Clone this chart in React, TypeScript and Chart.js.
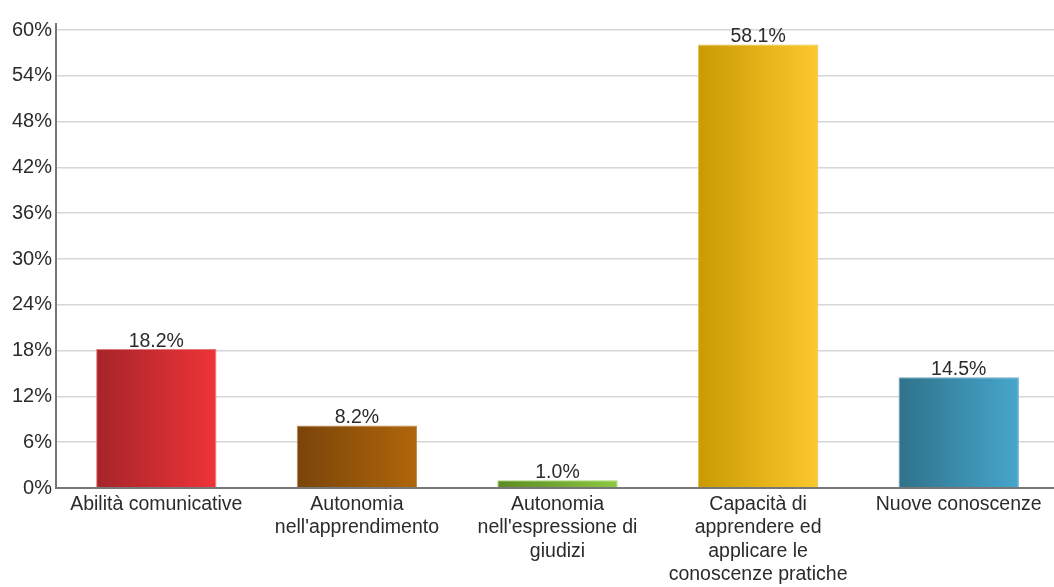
import React, { useEffect, useRef } from "react";
import { Chart, registerables } from "chart.js";

Chart.register(...registerables);

const categories: string[][] = [
  ["Abilità comunicative"],
  ["Autonomia", "nell'apprendimento"],
  ["Autonomia", "nell'espressione di", "giudizi"],
  ["Capacità di", "apprendere ed", "applicare le", "conoscenze pratiche"],
  ["Nuove conoscenze"],
];
const values: number[] = [18.2, 8.2, 1.0, 58.1, 14.5];
const darkColors: string[] = ["#A6242B", "#7A4409", "#5A8A22", "#C99A02", "#2F7289"];
const lightColors: string[] = ["#EE3438", "#B0660B", "#8CC841", "#FCC82E", "#46A6CD"];
const borderColors: string[] = ["#E77A7C", "#B98A55", "#A6D46E", "#E9C04E", "#6FA9C2"];

const FONT = "'Liberation Sans', Arial, sans-serif";

export default function App() {
  const ref = useRef<HTMLCanvasElement | null>(null);
  useEffect(() => {
    if (!ref.current) return;
    const labelPlugin = {
      id: "valueLabels",
      afterDatasetsDraw(chart: any) {
        const ctx = chart.ctx;
        const meta = chart.getDatasetMeta(0);
        ctx.save();
        ctx.font = `19.5px ${FONT}`;
        ctx.fillStyle = "#2b2b2b";
        ctx.textAlign = "center";
        ctx.textBaseline = "bottom";
        meta.data.forEach((bar: any, i: number) => {
          ctx.fillText(values[i].toFixed(1) + "%", bar.x, bar.y + 2);
        });
        ctx.restore();
      },
    };
    const axisPlugin = {
      id: "yAxisLine",
      afterDraw(chart: any) {
        const ctx = chart.ctx;
        const a = chart.chartArea;
        ctx.save();
        ctx.strokeStyle = "#777777";
        ctx.lineWidth = 2;
        ctx.beginPath();
        ctx.moveTo(a.left, a.top - 7);
        ctx.lineTo(a.left, a.bottom + 1);
        ctx.moveTo(a.left, a.bottom);
        ctx.lineTo(a.right, a.bottom);
        ctx.stroke();
        ctx.restore();
      },
    };
    const chart = new Chart(ref.current, {
      type: "bar",
      data: {
        labels: categories,
        datasets: [
          {
            data: values,
            backgroundColor: (c: any) => {
              const chart = c.chart;
              const xs = chart.scales.x;
              if (!xs || !chart.chartArea) return darkColors[c.dataIndex];
              const cx = xs.getPixelForValue(c.dataIndex);
              const half = (xs.width / categories.length) * 0.6 / 2;
              const g = chart.ctx.createLinearGradient(cx - half, 0, cx + half, 0);
              g.addColorStop(0, darkColors[c.dataIndex]);
              g.addColorStop(1, lightColors[c.dataIndex]);
              return g;
            },
            borderColor: borderColors,
            borderWidth: 1,
            barPercentage: 0.6,
            categoryPercentage: 1,
          },
        ],
      },
      options: {
        animation: false,
        responsive: false,
        maintainAspectRatio: false,
        layout: { padding: { top: 30, right: 1, left: 0, bottom: 0 } },
        plugins: { legend: { display: false }, tooltip: { enabled: false } },
        scales: {
          x: {
            grid: { display: false, drawTicks: false },
            border: { display: false },
            ticks: {
              font: { family: FONT, size: 19.5, lineHeight: 1.2 },
              color: "#2b2b2b",
              padding: 5,
              maxRotation: 0,
              autoSkip: false,
            },
            afterFit: (s: any) => {
              s.height = 99;
            },
          },
          y: {
            min: 0,
            max: 60,
            ticks: {
              stepSize: 6,
              callback: (v: any) => v + "%",
              font: { family: FONT, size: 20 },
              color: "#2b2b2b",
              padding: 4,
            },
            grid: { color: "#d6d6d6", lineWidth: 1.5, drawTicks: false },
            border: { display: false },
            afterFit: (s: any) => {
              s.width = 56;
            },
          },
        },
      },
      plugins: [labelPlugin, axisPlugin],
    });
    return () => chart.destroy();
  }, []);
  return (
    <div
      style={{
        position: "fixed",
        left: 0,
        top: 0,
        width: 1054,
        height: 587,
        overflow: "hidden",
        background: "#fff",
      }}
    >
      <canvas ref={ref} width={1060} height={587} style={{ display: "block" }} />
    </div>
  );
}
